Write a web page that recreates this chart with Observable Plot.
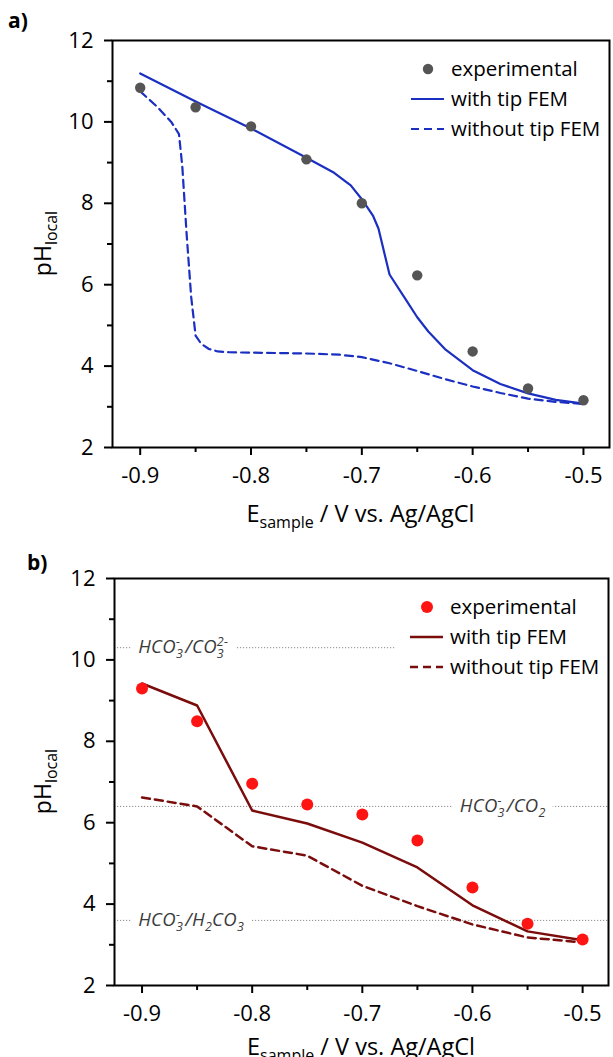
<!DOCTYPE html>
<html>
<head>
<meta charset="utf-8">
<script src="https://cdn.jsdelivr.net/npm/d3@7"></script>
<script src="https://cdn.jsdelivr.net/npm/@observablehq/plot@0.6"></script>
<style>
  body { margin: 0; background: #fff; font-family: "Open Sans", sans-serif; }
  #wrap { position: relative; width: 613px; height: 1057px; overflow: hidden; background: #fff; }
  .panel { position: absolute; left: 0; }
  .tag { position: absolute; font-weight: bold; font-size: 21px; color: #000; line-height: 1; }
</style>
</head>
<body>
<div id="wrap"></div>
<script>
// Sample potentials (V vs. Ag/AgCl) of the measurements
const potentials = [-0.9, -0.85, -0.8, -0.75, -0.7, -0.65, -0.6, -0.55, -0.5];

// a) measured local pH and FEM simulations
const expA = [10.84, 10.36, 9.89, 9.08, 8.0, 6.23, 4.36, 3.45, 3.16];
const withTipA_E = [-0.9, -0.85, -0.8, -0.75, -0.725, -0.71, -0.7, -0.69, -0.685, -0.675, -0.66, -0.65, -0.64, -0.625, -0.6, -0.575, -0.55, -0.525, -0.5];
const withTipA_pH = [11.19, 10.5, 9.84, 9.12, 8.75, 8.44, 8.1, 7.7, 7.38, 6.25, 5.62, 5.2, 4.85, 4.42, 3.9, 3.56, 3.33, 3.17, 3.08];
const withoutTipA_E = [-0.9, -0.885, -0.872, -0.865, -0.862, -0.858, -0.854, -0.85, -0.845, -0.838, -0.83, -0.82, -0.8, -0.75, -0.72, -0.7, -0.675, -0.65, -0.625, -0.6, -0.575, -0.55, -0.525, -0.5];
const withoutTipA_pH = [10.75, 10.38, 10.0, 9.7, 8.9, 7.2, 5.7, 4.75, 4.55, 4.42, 4.36, 4.34, 4.33, 4.31, 4.28, 4.22, 4.07, 3.88, 3.68, 3.5, 3.34, 3.2, 3.12, 3.07];

// b) measured local pH and FEM simulations
const expB = [9.30, 8.49, 6.96, 6.45, 6.20, 5.56, 4.41, 3.52, 3.13];
const withTipB = [9.42, 8.88, 6.30, 5.98, 5.51, 4.90, 3.97, 3.33, 3.11];
const withoutTipB = [6.62, 6.40, 5.42, 5.19, 4.45, 3.95, 3.50, 3.18, 3.06];

// carbonate equilibria (pKa levels) drawn as dotted guides in b)
const eqPH = [10.3, 6.4, 3.6];
const eqFrom = [-0.925, -0.925, -0.925];
const eqTo = [-0.67, -0.477, -0.477];
const eqLabelE = [-0.903, -0.611, -0.903];
const eqLabels = [
  [["HCO"], ["3", "sub"], ["-", "sup"], [" /CO"], ["3", "sub"], ["2-", "sup"]],
  [["HCO"], ["3", "sub"], ["-", "sup"], [" /CO"], ["2", "sub"]],
  [["HCO"], ["3", "sub"], ["-", "sup"], [" /H"], ["2", "sub"], ["CO"], ["3", "sub"]]
];

// axis ticks
const majorX = [-0.9, -0.8, -0.7, -0.6, -0.5];
const minorX = [-0.85, -0.75, -0.65, -0.55];
const majorY = [2, 4, 6, 8, 10, 12];
const minorY = [3, 5, 7, 9, 11];
const legendLabels = ["experimental", "with tip FEM", "without tip FEM"];

const xDomain = [-0.925, -0.4765];
const yDomain = [2, 12];

function axisMarks() {
  return [
    Plot.axisX(majorX, {tickSize: 8, tickPadding: 12, strokeWidth: 2, fontSize: 22, tickFormat: d => d.toFixed(1), label: null}),
    Plot.axisX(minorX, {tickSize: 5, strokeWidth: 2, tickFormat: () => "", label: null}),
    Plot.axisY(majorY, {tickSize: 8, tickPadding: 11, strokeWidth: 2, fontSize: 22, label: null}),
    Plot.axisY(minorY, {tickSize: 5, strokeWidth: 2, tickFormat: () => "", label: null}),
    Plot.frame({stroke: "#000", strokeWidth: 2})
  ];
}

function makePanel(cfg) {
  return Plot.plot({
    width: 613,
    height: cfg.height,
    marginLeft: cfg.marginLeft,
    marginRight: cfg.marginRight,
    marginTop: cfg.marginTop,
    marginBottom: cfg.marginBottom,
    style: {fontFamily: "Open Sans, sans-serif", fontSize: "22px", color: "#000", background: "#fff", overflow: "visible"},
    x: {domain: xDomain},
    y: {domain: yDomain},
    marks: [
      ...(cfg.before || []),
      Plot.line(cfg.without, {x: "E", y: "pH", stroke: cfg.lineColor, strokeWidth: cfg.lineWidth, strokeDasharray: "8,5"}),
      Plot.line(cfg.withTip, {x: "E", y: "pH", stroke: cfg.lineColor, strokeWidth: cfg.lineWidth}),
      Plot.dot(cfg.exp, {x: "E", y: "pH", r: cfg.r, fill: cfg.dotColor, stroke: "none"}),
      ...axisMarks()
    ]
  });
}

function addTitles(plot, titleBaseline) {
  const svg = d3.select(plot);
  const xs = plot.scale("x"), ys = plot.scale("y");
  const left = xs.range[0], right = xs.range[1];
  const top = ys.range[1], bottom = ys.range[0];
  // x axis title with subscript
  const xt = svg.append("text")
    .attr("x", (left + right) / 2)
    .attr("y", titleBaseline)
    .attr("text-anchor", "middle")
    .attr("font-size", 23.5)
    .attr("fill", "#000");
  xt.append("tspan").text("E");
  xt.append("tspan").attr("font-size", 16).attr("dy", 6).text("sample");
  xt.append("tspan").attr("dy", -6).text(" / V vs. Ag/AgCl");
  // y axis title with subscript
  const yt = svg.append("text")
    .attr("transform", `translate(${51},${(top + bottom) / 2}) rotate(-90)`)
    .attr("text-anchor", "middle")
    .attr("font-size", 23)
    .attr("fill", "#000");
  yt.append("tspan").text("pH");
  yt.append("tspan").attr("font-size", 16).attr("dy", 6).text("local");
}

function addLegend(plot, lineColor, dotColor, r, lineWidth) {
  const svg = d3.select(plot);
  const xs = plot.scale("x"), ys = plot.scale("y");
  const R = xs.range[1], T = ys.range[1];
  const g = svg.append("g").attr("font-size", 20.5).attr("fill", "#000").attr("text-anchor", "start");
  const rows = [T + 29, T + 59, T + 89];
  g.append("circle").attr("cx", R - 181).attr("cy", rows[0]).attr("r", r).attr("fill", dotColor);
  g.append("line").attr("x1", R - 198).attr("x2", R - 165).attr("y1", rows[1]).attr("y2", rows[1])
    .attr("stroke", lineColor).attr("stroke-width", lineWidth);
  g.append("line").attr("x1", R - 198).attr("x2", R - 165).attr("y1", rows[2]).attr("y2", rows[2])
    .attr("stroke", lineColor).attr("stroke-width", lineWidth).attr("stroke-dasharray", "8,5");
  legendLabels.forEach((t, i) => {
    g.append("text").attr("x", R - 158).attr("y", rows[i]).attr("dy", "0.35em").text(t);
  });
}

function addChemLabels(plot) {
  const svg = d3.select(plot);
  const xs = plot.scale("x"), ys = plot.scale("y");
  eqLabels.forEach((parts, i) => {
    const x = xs.apply(eqLabelE[i]);
    const y = ys.apply(eqPH[i]) + 6;
    const bg = svg.append("rect").attr("fill", "#fff");
    const t = svg.append("text").attr("x", x).attr("y", y).attr("text-anchor", "start")
      .attr("font-size", 18.5).attr("font-style", "italic").attr("fill", "#3a3a3a")
      .attr("letter-spacing", 0.3);
    let shift = 0, lastSubWidth = 0;
    parts.forEach(([s, kind]) => {
      const sp = t.append("tspan").text(s);
      let target = 0;
      if (kind === "sub") { sp.attr("font-size", 12.5); target = 5; }
      else if (kind === "sup") { sp.attr("font-size", 12.5); target = -7; sp.attr("dx", -lastSubWidth); }
      sp.attr("dy", target - shift);
      shift = target;
      if (kind === "sub") lastSubWidth = sp.node().getComputedTextLength();
    });
    const bb = t.node().getBBox();
    bg.attr("x", bb.x - 7).attr("y", bb.y).attr("width", bb.width + 14).attr("height", bb.height);
  });
}

const wrap = document.getElementById("wrap");

// Panel a)
const dataA = {
  exp: potentials.map((E, i) => ({E, pH: expA[i]})),
  withTip: withTipA_E.map((E, i) => ({E, pH: withTipA_pH[i]})),
  without: withoutTipA_E.map((E, i) => ({E, pH: withoutTipA_pH[i]}))
};
const blue = "#1b2fc0";
const plotA = makePanel({
  height: 540, marginLeft: 112, marginRight: 4, marginTop: 40, marginBottom: 93,
  ...dataA, lineColor: blue, dotColor: "#555555", r: 5.2, lineWidth: 2.2
});
const divA = document.createElement("div");
divA.className = "panel"; divA.style.top = "0px";
divA.appendChild(plotA);
wrap.appendChild(divA);
addTitles(plotA, 522);
addLegend(plotA, blue, "#555555", 5.2, 2.2);

// Panel b)
const dataB = {
  exp: potentials.map((E, i) => ({E, pH: expB[i]})),
  withTip: potentials.map((E, i) => ({E, pH: withTipB[i]})),
  without: potentials.map((E, i) => ({E, pH: withoutTipB[i]}))
};
const darkRed = "#7a0c0c";
const eqRows = eqPH.map((pH, i) => ({pH, from: eqFrom[i], to: eqTo[i]}));
const plotB = makePanel({
  height: 517, marginLeft: 114, marginRight: 5, marginTop: 38, marginBottom: 72,
  ...dataB, lineColor: darkRed, dotColor: "#ff1414", r: 6, lineWidth: 2.5,
  before: [Plot.ruleY(eqRows, {y: "pH", x1: "from", x2: "to", stroke: "#8a8a8a", strokeWidth: 1, strokeDasharray: "1.2,1.8"})]
});
const divB = document.createElement("div");
divB.className = "panel"; divB.style.top = "540px";
divB.appendChild(plotB);
wrap.appendChild(divB);
addChemLabels(plotB);
addTitles(plotB, 515);
addLegend(plotB, darkRed, "#ff1414", 6, 2.5);

// panel tags
[["a)", 8, 10], ["b)", 27, 552]].forEach(([t, l, tp]) => {
  const d = document.createElement("div");
  d.className = "tag"; d.textContent = t;
  d.style.left = l + "px"; d.style.top = tp + "px";
  wrap.appendChild(d);
});
</script>
</body>
</html>
